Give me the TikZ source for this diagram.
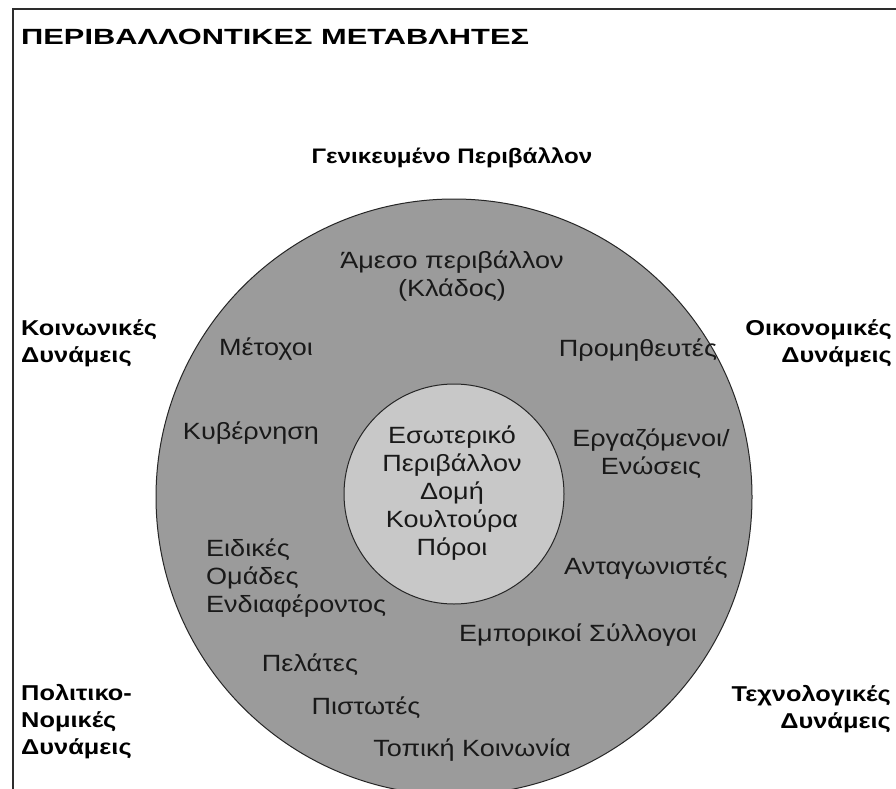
\documentclass[tikz,border=0pt]{standalone}
\usepackage{fontspec}
\setmainfont{Liberation Sans}
\newfontfamily\titlefont[FakeStretch=1.4]{Liberation Sans}
\newfontfamily\headfont[FakeStretch=1.15]{Liberation Sans}
\newfontfamily\forcefont[FakeStretch=1.18]{Liberation Sans}
\newfontfamily\ringfont[FakeStretch=1.15]{Liberation Sans}
\definecolor{outerfill}{RGB}{155,155,155}
\definecolor{innerfill}{RGB}{200,200,200}
\definecolor{framecol}{RGB}{45,45,45}
\definecolor{inktext}{RGB}{25,25,25}
\tikzset{
  frameline/.style={draw=framecol, line width=1.8pt},
  ring/.style={draw=black!85, line width=1pt},
  titlelabel/.style={font=\titlefont\bfseries\fontsize{22}{27}\selectfont, text=black, inner sep=0pt},
  forcelabel/.style={font=\forcefont\bfseries\fontsize{21.5}{27}\selectfont, text=black, inner sep=0pt},
  headlabel/.style={font=\headfont\bfseries\fontsize{21}{27}\selectfont, text=black, inner sep=0pt},
  itemlabel/.style={font=\ringfont\fontsize{23.5}{28}\selectfont, text=inktext, inner sep=0pt, align=center},
}
\begin{document}
\begin{tikzpicture}[x=1pt,y=-1pt]
\useasboundingbox (0,0) rectangle (896,789);
\fill[white] (0,0) rectangle (896,789);

% outer frame (continues past the right and lower edges)
\coordinate (ftl) at (13,9);
\coordinate (ftr) at (900,9);
\coordinate (fbl) at (13,795);
\draw[frameline] (ftr) -- (ftl) -- (fbl);

% heading
\node[titlelabel, anchor=west] (title) at (21,37) {ΠΕΡΙΒΑΛΛΟΝΤΙΚΕΣ ΜΕΤΑΒΛΗΤΕΣ};
\node[headlabel, anchor=center] (general) at (452,158) {Γενικευμένο Περιβάλλον};

% direct environment and internal environment
\node[ring, circle, fill=outerfill, minimum size=596pt, inner sep=0pt] (outer) at (454,497) {};
\node[ring, circle, fill=innerfill, minimum size=220pt, inner sep=0pt] (inner) at (454,494) {};

% forces in the corners
\node[forcelabel, anchor=west, align=left] (social) at (21,343) {Κοινωνικές\\Δυνάμεις};
\node[forcelabel, anchor=east, align=right] (economic) at (892,343) {Οικονομικές\\Δυνάμεις};
\node[forcelabel, anchor=east, align=right] (tech) at (891,709) {Τεχνολογικές\\Δυνάμεις};
\node[forcelabel, anchor=west, align=left] (political) at (21,722) {Πολιτικο-\\Νομικές\\Δυνάμεις};

% stakeholders in the ring
\node[itemlabel] (direct) at (452,276) {Άμεσο περιβάλλον\\(Κλάδος)};
\node[itemlabel] (holders) at (266,349) {Μέτοχοι};
\node[itemlabel] (suppliers) at (638,350) {Προμηθευτές};
\node[itemlabel] (gov) at (251,433) {Κυβέρνηση};
\node[itemlabel] (workers) at (651,454) {Εργαζόμενοι/\\Ενώσεις};
\node[itemlabel, align=left, anchor=west] (groups) at (206,578) {Ειδικές\\Ομάδες\\Ενδιαφέροντος};
\node[itemlabel] (rivals) at (646,568) {Ανταγωνιστές};
\node[itemlabel] (trade) at (578,635) {Εμπορικοί Σύλλογοι};
\node[itemlabel] (clients) at (310,665) {Πελάτες};
\node[itemlabel] (lenders) at (366,708) {Πιστωτές};
\node[itemlabel] (local) at (472,750) {Τοπική Κοινωνία};

% internal environment
\node[itemlabel] (core) at (452,493) {Εσωτερικό\\Περιβάλλον\\Δομή\\Κουλτούρα\\Πόροι};
\end{tikzpicture}
\end{document}
